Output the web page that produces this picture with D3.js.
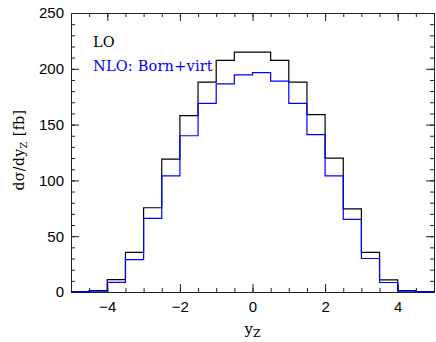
<!DOCTYPE html>
<html>
<head>
<meta charset="utf-8">
<script src="https://cdn.jsdelivr.net/npm/d3@7"></script>
<style>
  body { margin: 0; background: #fff; }
  svg { display: block; }
  .tick text { font-family: "Liberation Sans", Arial, sans-serif; font-size: 15px; fill: #000; }
  .lab { font-family: "DejaVu Serif", "Liberation Serif", serif; }
</style>
</head>
<body>
<div id="chart"></div>
<script>
// bin edges of the y_Z histogram
const binEdges = [-5, -4.5, -4, -3.5, -3, -2.5, -2, -1.5, -1, -0.5, 0, 0.5, 1, 1.5, 2, 2.5, 3, 3.5, 4, 4.5, 5];

// dσ/dy_Z per bin [fb]
const loValues = [0.3, 1.2, 11, 35.5, 75.5, 119, 158, 188, 207.5, 215, 215, 207.5, 188, 159, 120, 74.5, 35.5, 10.8, 1.2, 0.3];
const nloValues = [0.2, 0.8, 8.7, 29, 66, 104, 140, 169, 186.5, 194.5, 196.5, 189, 169, 141, 104, 65, 30, 8.5, 0.8, 0.2];

const xMajorTicks = [-4, -2, 0, 2, 4];
const yMajorTicks = [0, 50, 100, 150, 200, 250];

const width = 436, height = 342;
const margin = { top: 13, right: 2, bottom: 50, left: 71 };

const svg = d3.select('#chart').append('svg')
    .attr('width', width)
    .attr('height', height);

const x = d3.scaleLinear().domain([-5, 5]).range([margin.left, width - margin.right]);
const y = d3.scaleLinear().domain([0, 250]).range([height - margin.bottom, margin.top]);

const xMinor = d3.range(-5, 5.001, 0.5);
const yMinor = d3.range(0, 250.001, 10);

// axes: ticks point inwards on all four sides
function drawAxis(axisFn, scale, major, minor, transform, labels) {
    const gMin = svg.append('g').attr('transform', transform)
        .call(axisFn(scale).tickValues(minor).tickSize(-4).tickFormat(''));
    gMin.select('.domain').remove();
    const g = svg.append('g').attr('transform', transform)
        .call(axisFn(scale).tickValues(major).tickSize(-8)
            .tickPadding(axisFn === d3.axisBottom ? 9 : 7)
            .tickFormat(labels ? d3.format('') : ''));
    g.select('.domain').attr('stroke', '#222');
    g.selectAll('line').attr('stroke', '#222');
    gMin.selectAll('line').attr('stroke', '#222');
    return g;
}

drawAxis(d3.axisBottom, x, xMajorTicks, xMinor, `translate(0,${y(0)})`, true);
drawAxis(d3.axisTop, x, xMajorTicks, xMinor, `translate(0,${y(250)})`, false);
drawAxis(d3.axisLeft, y, yMajorTicks, yMinor, `translate(${x(-5)},0)`, true);
drawAxis(d3.axisRight, y, yMajorTicks, yMinor, `translate(${x(5)},0)`, false);

// histograms as step lines
function stepPoints(values) {
    const pts = values.map((v, i) => [binEdges[i], v]);
    pts.push([binEdges[binEdges.length - 1], values[values.length - 1]]);
    return pts;
}

const line = d3.line()
    .x(d => x(d[0]))
    .y(d => y(d[1]))
    .curve(d3.curveStepAfter);

svg.append('path')
    .datum(stepPoints(loValues))
    .attr('d', line)
    .attr('fill', 'none')
    .attr('stroke', '#000')
    .attr('stroke-width', 1.2);

svg.append('path')
    .datum(stepPoints(nloValues))
    .attr('d', line)
    .attr('fill', 'none')
    .attr('stroke', '#0000ff')
    .attr('stroke-width', 1.2);

// legend labels
svg.append('text')
    .attr('class', 'lab')
    .attr('x', 93)
    .attr('y', 47)
    .style('font-size', '14.5px')
    .attr('fill', '#000')
    .text('LO');

svg.append('text')
    .attr('class', 'lab')
    .attr('x', 93)
    .attr('y', 71)
    .style('font-size', '14.5px')
    .style('letter-spacing', '0.2px')
    .attr('fill', '#0000ff')
    .text('NLO: Born+virt');

// axis titles
const xt = svg.append('text')
    .attr('class', 'lab')
    .attr('x', x(0))
    .attr('y', 334)
    .attr('text-anchor', 'middle')
    .style('font-size', '15px');
xt.append('tspan').text('y');
xt.append('tspan').attr('dy', 3).style('font-size', '11px').text('Z');

const yt = svg.append('text')
    .attr('class', 'lab')
    .attr('transform', `translate(24,150) rotate(-90)`)
    .attr('text-anchor', 'middle')
    .style('font-size', '14px')
    .style('letter-spacing', '0.4px');
yt.append('tspan').text('dσ/dy');
yt.append('tspan').attr('dy', 3).style('font-size', '10px').text('Z');
yt.append('tspan').attr('dy', -3).text(' [fb]');
</script>
</body>
</html>
